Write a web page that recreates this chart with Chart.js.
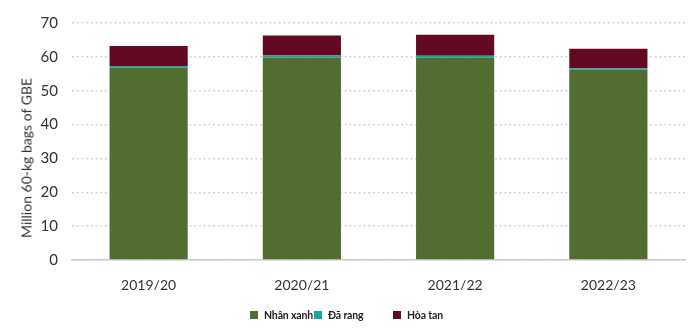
<!DOCTYPE html>
<html>
<head>
<meta charset="utf-8">
<script src="https://cdn.jsdelivr.net/npm/chart.js@4"></script>
<style>
  body { margin: 0; background: #fff; }
  #wrap { position: relative; width: 700px; height: 333px; }
  #legend { position: absolute; top: 309px; left: 0; width: 700px; height: 16px;
    font-family: Lato, sans-serif; font-size: 10.5px; font-weight: bold; color: #222; letter-spacing: -0.15px; }
  .item { position: absolute; top: 0; display: flex; align-items: center; white-space: nowrap; }
  .box { width: 8px; height: 8px; margin-right: 6px; }
  #ytitle { position: absolute; left: 26px; top: 158px; transform: translate(-50%, -50%) rotate(-90deg);
    font-family: Lato, sans-serif; font-size: 14px; color: #333; white-space: nowrap; }
</style>
</head>
<body>
<div id="wrap">
  <canvas id="myChart" width="700" height="333"></canvas>
  <div id="ytitle">Million 60-kg bags of GBE</div>
  <div id="legend"></div>
</div>
<script>
  var years = ["2019/20", "2020/21", "2021/22", "2022/23"];
  var nhanXanh = [56.8, 59.8, 59.7, 56.2];
  var daRang = [0.5, 0.6, 0.6, 0.4];
  var hoaTan = [5.9, 5.9, 6.2, 5.8];
  var seriesNames = ["Nhân xanh", "Đã rang", "Hòa tan"];
  var seriesColors = ["#516e30", "#17a5a2", "#630a22"];
  var legendLeft = [250, 314, 393];

  var fontFamily = "Lato, sans-serif";

  var ctx = document.getElementById('myChart').getContext('2d');
  var myChart = new Chart(ctx, {
    type: 'bar',
    data: {
      labels: years,
      datasets: [
        { label: seriesNames[0], data: nhanXanh, backgroundColor: seriesColors[0] },
        { label: seriesNames[1], data: daRang, backgroundColor: seriesColors[1] },
        { label: seriesNames[2], data: hoaTan, backgroundColor: seriesColors[2] }
      ]
    },
    options: {
      responsive: false,
      animation: false,
      layout: { padding: { top: 10, right: 15, bottom: 43, left: 0 } },
      datasets: { bar: { categoryPercentage: 1, barPercentage: 0.51 } },
      plugins: {
        legend: { display: false },
        tooltip: { enabled: false }
      },
      scales: {
        x: {
          stacked: true,
          grid: { display: false },
          border: { color: '#cccccc', width: 1.5 },
          ticks: { color: '#333', padding: 9, font: { family: fontFamily, size: 14 } },
          afterFit: function (scale) { scale.height = 30; }
        },
        y: {
          stacked: true,
          min: 0,
          max: 70,
          ticks: { stepSize: 10, color: '#333', padding: 14, font: { family: fontFamily, size: 15 } },
          grid: { color: '#d4d4d4', lineWidth: 1.5, drawTicks: false },
          border: { display: false, dash: [2, 2.7] },
          afterFit: function (scale) { scale.width = 72; }
        }
      }
    }
  });

  // legend drawn as plain html so the uneven gaps can be kept
  var legend = document.getElementById('legend');
  for (var i = 0; i < seriesNames.length; i++) {
    var item = document.createElement('div');
    item.className = 'item';
    item.style.left = legendLeft[i] + 'px';
    item.innerHTML = '<span class="box" style="background:' + seriesColors[i] + '"></span>' + seriesNames[i];
    legend.appendChild(item);
  }
</script>
</body>
</html>
